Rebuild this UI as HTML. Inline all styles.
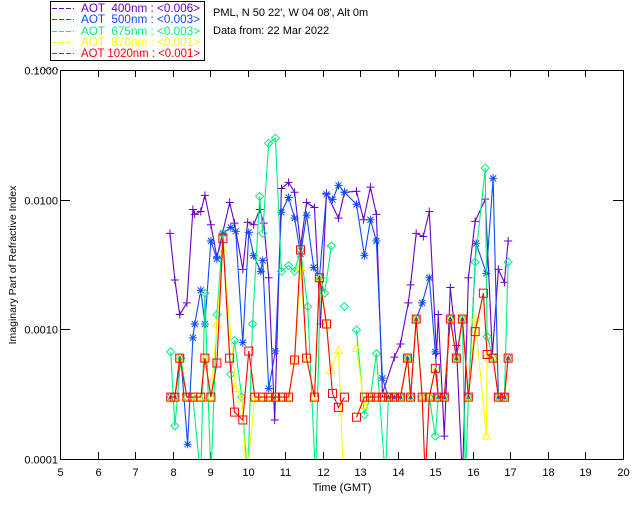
<!DOCTYPE html>
<html><head><meta charset="utf-8"><style>
html,body{margin:0;padding:0;background:#fff;}
svg{display:block;font-family:"Liberation Sans",sans-serif;}
</style></head><body>
<svg id="chart" width="640" height="512" viewBox="0 0 640 512" xmlns="http://www.w3.org/2000/svg">
<defs><clipPath id="pc"><rect x="60" y="70" width="563" height="389"/></clipPath></defs>
<g>
<rect x="50.5" y="1.5" width="154" height="59" fill="#fff" stroke="#000" stroke-width="1"/>
<g stroke-width="1" stroke-dasharray="5,2">
<line x1="52" y1="8.5" x2="74" y2="8.5" stroke="#6a00c8"/>
<line x1="52" y1="19.5" x2="74" y2="19.5" stroke="#0a4cff"/>
<line x1="52" y1="31.5" x2="74" y2="31.5" stroke="#00f080"/>
<line x1="52" y1="42.5" x2="74" y2="42.5" stroke="#ffff00"/>
<line x1="52" y1="53.5" x2="74" y2="53.5" stroke="#ff0000"/>
</g>
<g font-size="11.5">
<text x="81" y="12" fill="#6a00c8" textLength="119" lengthAdjust="spacingAndGlyphs" xml:space="preserve">AOT  400nm : &lt;0.006&gt;</text>
<text x="81" y="23" fill="#0a4cff" textLength="119" lengthAdjust="spacingAndGlyphs" xml:space="preserve">AOT  500nm : &lt;0.003&gt;</text>
<text x="81" y="35" fill="#00f080" textLength="119" lengthAdjust="spacingAndGlyphs" xml:space="preserve">AOT  675nm : &lt;0.003&gt;</text>
<text x="81" y="46" fill="#ffff00" textLength="119" lengthAdjust="spacingAndGlyphs" xml:space="preserve">AOT  870nm : &lt;0.001&gt;</text>
<text x="81" y="57" fill="#ff0000" textLength="119" lengthAdjust="spacingAndGlyphs" xml:space="preserve">AOT 1020nm : &lt;0.001&gt;</text>
</g></g>
<text x="213" y="16" font-size="11" fill="#000">PML, N 50 22', W 04 08', Alt 0m</text>
<text x="213" y="34" font-size="11" fill="#000">Data from: 22 Mar 2022</text>
<g id="axes"></g>
<g id="series" clip-path="url(#pc)"></g>
<text x="342" y="491" font-size="11" text-anchor="middle">Time (GMT)</text>
<text x="0" y="0" font-size="10.5" text-anchor="middle" transform="translate(16,265) rotate(-90)">Imaginary Part of Refractive Index</text>
</svg>
<script>
const xTicks=[5,6,7,8,9,10,11,12,13,14,15,16,17,18,19,20];
const yTicks=[0.0001,0.001,0.01,0.1];
const yTickLabels=["0.0001","0.0010","0.0100","0.1000"];
const t400=[7.93,8.06,8.19,8.38,8.54,8.59,8.75,8.86,9.02,9.18,9.52,9.65,9.87,10.00,10.16,10.32,10.43,10.56,10.72,10.90,11.09,11.25,11.41,11.57,11.78,11.94,12.10,12.42,12.58,12.90,13.09,13.27,13.43,13.59,13.91,14.07,14.28,14.34,14.49,14.68,14.84,15.03,15.08,15.24,15.40,15.56,15.72,15.88,16.06,16.33,16.52,16.68,16.84,16.94];
const v400=[0.0055,0.0024,0.0013,0.0016,0.0084,0.0077,0.0081,0.0108,0.0064,0.0036,0.0095,0.0066,0.0029,0.0067,0.0064,0.0084,0.0066,0.0025,0.0002,0.0122,0.0136,0.0114,0.0044,0.0095,0.0087,0.0011,0.0112,0.0072,0.0114,0.0116,0.0070,0.0125,0.0077,0.00032,0.00061,0.00077,0.0016,0.0022,0.0055,0.0052,0.0081,0.00065,0.0013,0.00015,0.0021,0.00075,0.00007,0.0025,0.0068,0.0101,0.00064,0.0029,0.0023,0.0048];
const t500=[7.95,8.06,8.22,8.40,8.54,8.59,8.75,8.86,9.02,9.18,9.34,9.55,9.68,9.87,10.03,10.16,10.35,10.40,10.56,10.74,10.90,11.09,11.25,11.41,11.57,11.76,11.91,12.10,12.26,12.42,12.58,12.90,13.11,13.27,13.43,13.59,13.75,13.91,14.07,14.26,14.34,14.49,14.65,14.84,15.00,15.08,15.24,15.40,15.56,15.72,15.88,16.09,16.36,16.54,16.68,16.84,16.94];
const v500=[0.0003,0.0003,0.0006,0.00013,0.00086,0.0011,0.0020,0.0011,0.0048,0.0035,0.0055,0.0061,0.0057,0.00079,0.0056,0.0037,0.0028,0.0034,0.00035,0.00068,0.0080,0.0104,0.0072,0.0038,0.0076,0.0030,0.0025,0.0110,0.0100,0.0129,0.0114,0.0092,0.0037,0.0070,0.0048,0.00042,0.0003,0.0003,0.0003,0.0006,0.0003,0.0012,0.0016,0.0025,0.00067,0.0003,0.0003,0.0012,0.0006,0.0012,0.0003,0.0046,0.0027,0.0146,0.0003,0.0003,0.0006];
const t675=[7.95,8.06,8.22,8.38,8.54,8.75,8.86,9.02,9.18,9.34,9.55,9.65,9.84,10.00,10.13,10.32,10.40,10.56,10.74,10.90,11.09,11.25,11.41,11.60,11.81,11.94,12.05,12.23,12.40,12.58,12.70,12.90,13.11,13.27,13.43,13.67,13.75,13.91,14.07,14.26,14.34,14.49,14.65,14.84,15.00,15.08,15.24,15.40,15.56,15.72,15.80,15.88,16.06,16.33,16.38,16.54,16.68,16.84,16.94];
const v675=[0.00067,0.00018,0.0006,0.0003,0.0003,0.00007,0.0019,0.00007,0.0013,0.0055,0.00045,0.00082,0.0003,0.00007,0.0011,0.0106,0.0055,0.0272,0.0298,0.0028,0.0031,0.0028,0.0041,0.0015,0.00007,0.0025,0.0019,0.0044,null,0.0015,null,0.00099,0.00022,0.0003,0.00065,0.00007,0.0003,0.0003,0.0003,0.0006,0.0003,0.0012,0.0003,0.0003,0.00015,0.0003,0.0003,0.0012,0.0006,0.0012,0.00007,0.0003,0.0033,0.0175,0.00088,0.0006,0.0003,0.0003,0.0033];
const t870=[7.95,8.06,8.19,8.38,8.54,8.75,8.86,9.02,9.18,9.34,9.68,9.84,9.97,10.19,10.40,10.56,10.74,10.93,11.09,11.25,11.41,11.57,11.78,11.91,12.10,12.21,12.42,12.55,12.70,12.90,13.11,13.27,13.43,13.59,13.75,13.91,14.07,14.26,14.34,14.49,14.65,14.84,15.00,15.08,15.24,15.40,15.56,15.72,15.88,16.06,16.36,16.38,16.54,16.68,16.84,16.94];
const v870=[0.0003,0.0003,0.0006,0.0003,0.0003,0.0003,0.0006,0.0003,0.0011,0.0041,0.00035,0.00029,0.00007,0.0003,0.0003,0.0003,0.0003,0.0003,0.0003,0.00058,0.0030,0.0006,0.0003,0.0025,0.0011,0.00048,0.00069,0.00007,null,0.00071,0.00026,0.0003,0.0003,0.0003,0.0003,0.0003,0.0003,0.0006,0.0003,0.0012,0.0003,0.0003,0.00048,0.0003,0.0003,0.0012,0.0006,0.0012,0.0003,0.0012,0.00015,0.00064,0.0006,0.0003,0.0003,0.0006];
const t1020=[7.95,8.06,8.19,8.38,8.54,8.75,8.86,9.02,9.18,9.34,9.52,9.65,9.87,10.03,10.19,10.40,10.56,10.74,10.93,11.09,11.25,11.41,11.57,11.78,11.91,12.10,12.26,12.42,12.58,12.75,12.90,13.11,13.27,13.43,13.59,13.75,13.91,14.07,14.26,14.34,14.49,14.65,14.73,14.84,15.00,15.08,15.24,15.40,15.56,15.72,15.88,16.06,16.28,16.38,16.54,16.68,16.84,16.94];
const v1020=[0.0003,0.0003,0.0006,0.0003,0.0003,0.0003,0.0006,0.0003,0.00055,0.0050,0.0006,0.00023,0.0002,0.00068,0.0003,0.0003,0.0003,0.0003,0.0003,0.0003,0.00058,0.0041,0.0006,0.0003,0.0025,0.0011,0.00032,0.00025,0.0003,null,0.00021,0.0003,0.0003,0.0003,0.0003,0.0003,0.0003,0.0003,0.0006,0.0003,0.0012,0.0003,0.00007,0.0003,0.0005,0.0003,0.0003,0.0012,0.0006,0.0012,0.0003,0.00096,0.0019,0.00064,0.0006,0.0003,0.0003,0.0006];

const L=60,R=623,T=70,B=459;
function xs(t){return L+(t-5)/15*(R-L);}
function ys(v){return T+(-1-Math.log10(v))/3*(B-T);}
const NS='http://www.w3.org/2000/svg';
function mk(tag,attrs,parent){const e=document.createElementNS(NS,tag);for(const k in attrs)e.setAttribute(k,attrs[k]);parent.appendChild(e);return e;}
const ax=document.getElementById('axes');
const frame=mk('rect',{x:L+0.5,y:T+0.5,width:R-L,height:B-T,fill:'none',stroke:'#000','stroke-width':1},ax);


const dots=mk('line',{x1:25,y1:69.5,x2:58,y2:69.5,stroke:'#000','stroke-width':1,'stroke-dasharray':'1,3'},ax);


xTicks.forEach((t,i)=>{
  const x=Math.round(xs(t))+0.5;
  if(i>0&&i<xTicks.length-1){
    const a=mk('line',{x1:x,y1:B,x2:x,y2:B-7,stroke:'#000'},ax);
    
    
    const b=mk('line',{x1:x,y1:T,x2:x,y2:T+7,stroke:'#000'},ax);
    
    
  }
  const lb=mk('text',{x:x,y:B+17,'font-size':11,'text-anchor':'middle'},ax);
  lb.textContent=String(t);
  
  
});
yTicks.forEach((v,i)=>{
  const y=Math.round(ys(v))+0.5;
  if(i>0&&i<yTicks.length-1){
    const a=mk('line',{x1:L,y1:y,x2:L+10,y2:y,stroke:'#000'},ax);
    
    
    const b=mk('line',{x1:R,y1:y,x2:R-10,y2:y,stroke:'#000'},ax);
    
    
  }
  const lb=mk('text',{x:L-2,y:y+4,'font-size':11,'text-anchor':'end'},ax);
  lb.textContent=yTickLabels[i];
  
  
});
const sg=document.getElementById('series');
function marker(g,kind,x,y,c){
  let e;
  if(kind==='plus'){e=mk('path',{d:`M${x-4} ${y}H${x+4}M${x} ${y-4}V${y+4}`,stroke:c,fill:'none'},g);}
  else if(kind==='star'){e=mk('path',{d:`M${x-4} ${y}H${x+4}M${x} ${y-4}V${y+4}M${x-3} ${y-3}L${x+3} ${y+3}M${x-3} ${y+3}L${x+3} ${y-3}`,stroke:c,fill:'none'},g);}
  else if(kind==='diamond'){e=mk('path',{d:`M${x} ${y-4}L${x+4} ${y}L${x} ${y+4}L${x-4} ${y}Z`,stroke:c,fill:'none'},g);}
  else if(kind==='tri'){e=mk('path',{d:`M${x} ${y-4}L${x+4} ${y+3}L${x-4} ${y+3}Z`,stroke:c,fill:'none'},g);}
  else {e=mk('rect',{x:x-4,y:y-4,width:8,height:8,stroke:c,fill:'none'},g);}
  
  
}
function series(name,ts,vs,c,kind){
  const g=mk('g',{},sg);
  
  
  let d='',pen=false;
  ts.forEach((t,i)=>{const v=vs[i];if(v==null){pen=false;return;}d+=(pen?'L':'M')+xs(t).toFixed(1)+' '+ys(v).toFixed(1);pen=true;});
  const p=mk('path',{d:d,fill:'none',stroke:c,'stroke-width':1.1},g);
  
  
  ts.forEach((t,i)=>{const v=vs[i];if(v==null)return;marker(g,kind,xs(t),ys(v),c);});
}
series('series-400nm',t400,v400,'#6a00c8','plus');
series('series-500nm',t500,v500,'#0a4cff','star');
series('series-675nm',t675,v675,'#00f080','diamond');
series('series-870nm',t870,v870,'#ffff00','tri');
series('series-1020nm',t1020,v1020,'#ff0000','square');
</script>
</body></html>
